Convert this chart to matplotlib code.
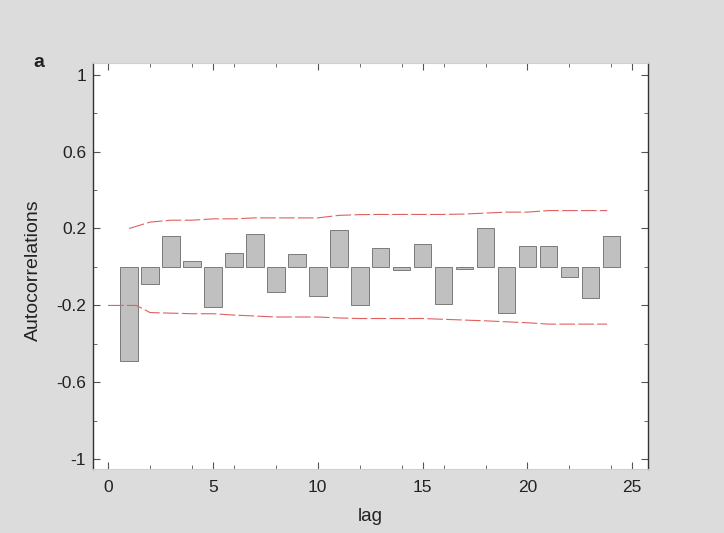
#!/usr/bin/env python3
"""Autocorrelation bar chart with approximate confidence bands."""

import matplotlib
matplotlib.use("Agg")
import matplotlib.pyplot as plt
from matplotlib.ticker import MultipleLocator, FixedLocator

# Sample autocorrelations by lag
lags = list(range(1, 25))
acf = [-0.49, -0.09, 0.16, 0.03, -0.21, 0.075, 0.17, -0.13, 0.065, -0.15,
       0.19, -0.20, 0.10, -0.015, 0.12, -0.19, -0.01, 0.20, -0.24, 0.11,
       0.11, -0.05, -0.16, 0.16]

# Upper / lower significance bounds
upper_lags = [1, 2, 3, 4, 5, 6, 7, 8, 9, 10, 11, 12, 13, 14, 15, 16, 17, 18,
              19, 20, 21, 22, 23, 23.8]
upper = [0.20, 0.233, 0.243, 0.243, 0.25, 0.25, 0.255, 0.255, 0.255, 0.255,
         0.268, 0.272, 0.273, 0.273, 0.273, 0.273, 0.275, 0.28, 0.285, 0.285,
         0.293, 0.293, 0.293, 0.293]
lower_lags = [0, 1, 1.35, 2, 3, 4, 5, 6, 7, 8, 9, 10, 11, 12, 13, 14, 15, 16,
              17, 18, 19, 20, 21, 22, 23, 23.8]
lower = [-0.20, -0.20, -0.20, -0.237, -0.24, -0.243, -0.243, -0.25, -0.255,
         -0.26, -0.26, -0.26, -0.265, -0.268, -0.268, -0.268, -0.268, -0.272,
         -0.276, -0.28, -0.285, -0.29, -0.297, -0.297, -0.297, -0.297]

yticks = [-1, -0.6, -0.2, 0.2, 0.6, 1]
ytick_labels = ["-1", "-0.6", "-0.2", "0.2", "0.6", "1"]

plt.rcParams["font.family"] = ["Liberation Sans", "DejaVu Sans"]

fig = plt.figure(figsize=(7.24, 5.33), dpi=100, facecolor="#dcdcdc")
ax = fig.add_axes([93 / 724, 1 - 469 / 533, (648 - 93) / 724, (469 - 63) / 533])
ax.set_facecolor("white")

ax.bar(lags, acf, width=0.84, color="#c0c0c0", edgecolor="#7a7a7a", linewidth=0.7)
ax.plot(upper_lags, upper, color="#e06060", linewidth=0.8, linestyle=(0, (14, 3)))
ax.plot(lower_lags, lower, color="#e06060", linewidth=0.8, linestyle=(0, (14, 3)))

ax.set_xlim(-0.72, 25.75)
ax.set_ylim(-1.05, 1.06)
ax.xaxis.set_major_locator(MultipleLocator(5))
ax.xaxis.set_minor_locator(MultipleLocator(2))
ax.yaxis.set_major_locator(FixedLocator(yticks))
ax.yaxis.set_minor_locator(MultipleLocator(0.2))
ax.set_yticklabels(ytick_labels)

ax.tick_params(which="both", direction="in", top=True, right=True,
               colors="#555555", labelcolor="#222222", labelsize=12.5)
ax.tick_params(axis="x", pad=8)
ax.tick_params(axis="y", pad=5)
ax.tick_params(which="major", length=5, width=0.8)
ax.tick_params(which="minor", length=3, width=0.6)

for side in ("left", "right"):
    ax.spines[side].set_color("#333333")
    ax.spines[side].set_linewidth(1.0)
for side in ("top", "bottom"):
    ax.spines[side].set_color("#d0d0d0")
    ax.spines[side].set_linewidth(0.8)

ax.set_xlabel("lag", fontsize=13.5, color="#222222", va="center")
ax.xaxis.set_label_coords(0.5, -0.118)
ax.set_ylabel("Autocorrelations", fontsize=14, color="#222222", va="center")
ax.yaxis.set_label_coords(-0.108, 0.49)
fig.text(38.5 / 724, 1 - 62.5 / 533, "a", fontsize=14, fontweight="bold",
         color="#222222", ha="center", va="center")

fig.savefig("out.png", dpi=100, facecolor=fig.get_facecolor())
